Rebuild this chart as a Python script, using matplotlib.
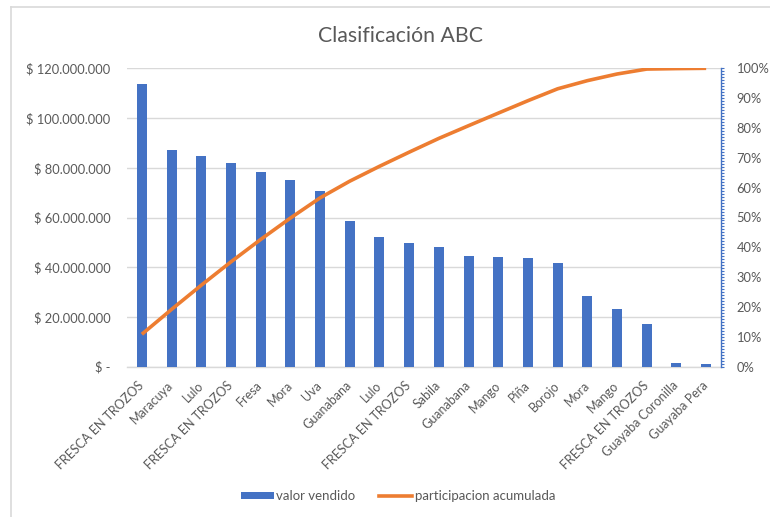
import matplotlib
matplotlib.use("Agg")
import matplotlib.pyplot as plt
from matplotlib.ticker import FuncFormatter, MultipleLocator, FixedLocator
from matplotlib.lines import Line2D
from matplotlib.patches import Patch
import numpy as np

# Products sorted by sales value (Pareto / ABC classification)
productos = [
    "FRESCA EN TROZOS", "Maracuya", "Lulo", "FRESCA EN TROZOS", "Fresa",
    "Mora", "Uva", "Guanabana", "Lulo", "FRESCA EN TROZOS", "Sabila",
    "Guanabana", "Mango", "Piña", "Borojo", "Mora", "Mango",
    "FRESCA EN TROZOS", "Guayaba Coronilla", "Guayaba Pera",
]
valor_vendido = [
    113_600_000, 87_200_000, 84_700_000, 81_900_000, 78_400_000,
    74_900_000, 70_800_000, 58_600_000, 52_000_000, 49_600_000,
    48_300_000, 44_500_000, 44_000_000, 43_600_000, 41_700_000,
    28_500_000, 23_300_000, 17_300_000, 1_600_000, 1_100_000,
]
# cumulative share of total sales
participacion_acumulada = np.cumsum(valor_vendido) / np.sum(valor_vendido)

y_ticks_valor = [0, 20_000_000, 40_000_000, 60_000_000, 80_000_000,
                 100_000_000, 120_000_000]
y_ticks_pct = [i / 10 for i in range(11)]

AZUL = "#4472C4"
NARANJA = "#ED7D31"
GRIS_TEXTO = "#595959"
GRIS_LINEA = "#D9D9D9"

plt.rcParams["font.family"] = ["Lato", "DejaVu Sans"]

W, H = 770, 517
fig = plt.figure(figsize=(W / 100, H / 100), dpi=100)
fig.patch.set_facecolor("white")

# chart area border
fig.add_artist(Line2D([11 / W, 1.0], [1 - 7 / H, 1 - 7 / H],
                      transform=fig.transFigure, color=GRIS_LINEA, lw=1.2))
fig.add_artist(Line2D([11 / W, 11 / W], [0.0, 1 - 7 / H],
                      transform=fig.transFigure, color=GRIS_LINEA, lw=1.2))

left, right = 127 / W, 721 / W
top, bottom = 1 - 68.3 / H, 1 - 366.7 / H
ax = fig.add_axes([left, bottom, right - left, top - bottom])

x = np.arange(len(productos))
ax.bar(x, valor_vendido, width=0.34, color=AZUL, zorder=3,
       label="valor vendido")
ax.set_xlim(-0.5, len(productos) - 0.5)
ax.set_ylim(0, 120_000_000)
ax.set_yticks(y_ticks_valor)


def fmt_pesos(v, pos):
    if v == 0:
        return "$ -"
    return "$ " + f"{int(round(v)):,}".replace(",", ".")


ax.yaxis.set_major_formatter(FuncFormatter(fmt_pesos))
ax.grid(axis="y", color=GRIS_LINEA, lw=1.0, zorder=0)
ax.set_axisbelow(True)
for s in ["top", "right", "left"]:
    ax.spines[s].set_visible(False)
ax.spines["bottom"].set_color(GRIS_LINEA)
ax.spines["bottom"].set_linewidth(1.0)
ax.tick_params(axis="y", length=0, pad=12, labelsize=9.3, labelcolor=GRIS_TEXTO)
ax.set_xticks(x)
ax.set_xticklabels(productos, rotation=45, ha="right", va="center",
                   rotation_mode="anchor")
ax.tick_params(axis="x", length=0, pad=12, labelsize=9, labelcolor=GRIS_TEXTO)

ax2 = ax.twinx()
ax2.plot(x, participacion_acumulada, color=NARANJA, lw=2.6, zorder=4,
         solid_capstyle="butt", label="participacion acumulada")
ax2.set_ylim(0, 1)
ax2.yaxis.set_major_locator(FixedLocator(y_ticks_pct))
ax2.yaxis.set_minor_locator(MultipleLocator(0.01))
ax2.yaxis.set_major_formatter(FuncFormatter(lambda v, p: f"{v * 100:.0f}%"))
for s in ["top", "left", "bottom"]:
    ax2.spines[s].set_visible(False)
ax2.spines["right"].set_color(AZUL)
ax2.spines["right"].set_linewidth(1.0)
ax2.tick_params(axis="y", which="both", direction="out", length=2.2,
                color=AZUL, width=0.8)
ax2.tick_params(axis="y", which="major", pad=9, labelsize=9.3,
                labelcolor=GRIS_TEXTO)

fig.text(0.52, 1 - 35.7 / H, "Clasificación ABC", ha="center", va="center",
         fontsize=15.3, color=GRIS_TEXTO)

handles = [
    Patch(facecolor=AZUL, edgecolor="none"),
    Line2D([], [], color=NARANJA, lw=2.6),
]
leg = fig.legend(handles, ["valor vendido", "participacion acumulada"],
                 loc="center", bbox_to_anchor=(0.5 * (238 + 558) / W, 1 - 496 / H),
                 ncol=2, frameon=False, fontsize=9.5, handlelength=2.5,
                 handleheight=0.45, handletextpad=0.2, columnspacing=1.8,
                 labelcolor=GRIS_TEXTO)

fig.savefig("out.png", dpi=100, facecolor="white")
